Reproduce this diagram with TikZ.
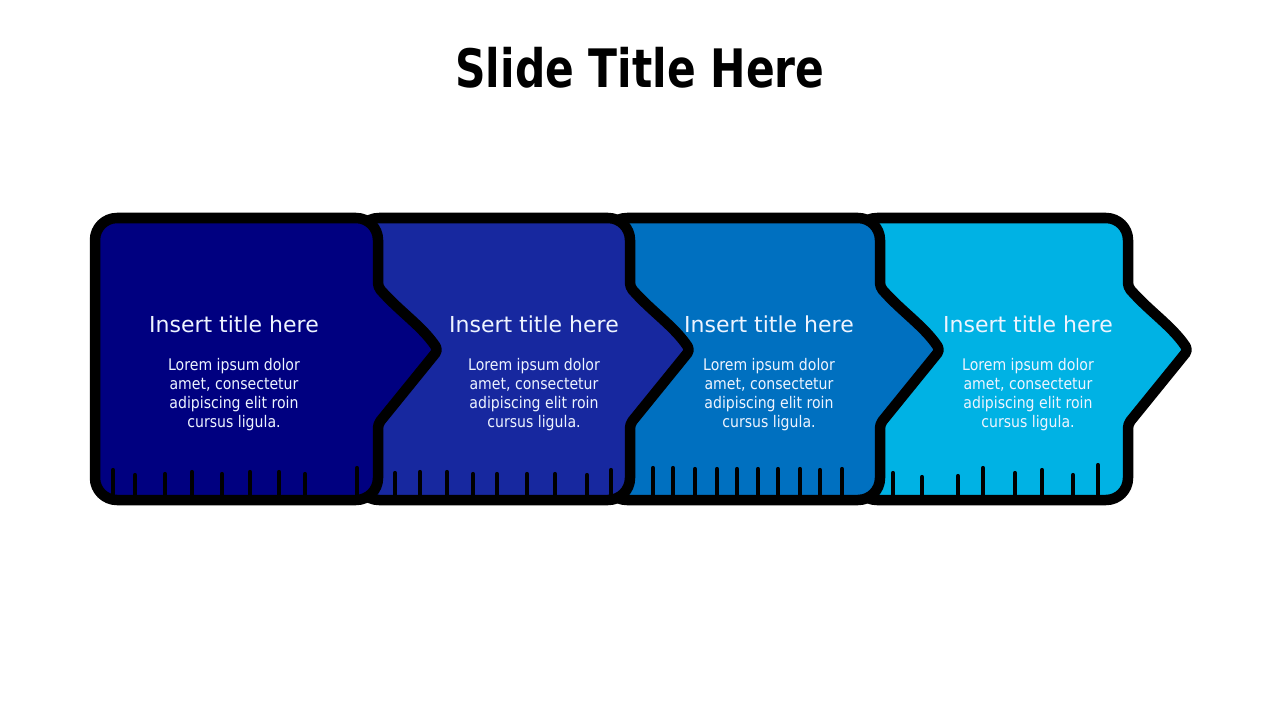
\documentclass[tikz,border=0pt]{standalone}
\usepackage{fontspec}
\setmainfont{DejaVu Sans}
\newfontfamily\headfont[FakeStretch=0.8]{DejaVu Sans}
\newfontfamily\bodyfont[FakeStretch=0.88]{DejaVu Sans}

\definecolor{stepA}{HTML}{000080}
\definecolor{stepB}{HTML}{17289F}
\definecolor{stepC}{HTML}{0070C0}
\definecolor{stepD}{HTML}{00B2E4}
\definecolor{textlight}{HTML}{EEF4FF}

\begin{document}
\begin{tikzpicture}[x=1bp,y=-1bp]
  \tikzset{stepshape/.style = {draw=black,line width=10.5bp,line join=round}}
  \tikzset{tick/.style = {draw=black,line width=4.2bp,line cap=round}}
  \tikzset{steptitle/.style = {anchor=base,inner sep=0pt,text=textlight,font=\fontsize{22bp}{26bp}\selectfont}}
  \tikzset{steptext/.style = {anchor=base,inner sep=0pt,align=center,text=textlight,font=\bodyfont\fontsize{16bp}{19bp}\selectfont}}

  \useasboundingbox[fill=white] (0,0) rectangle (1280,720);

  \node[anchor=base,inner sep=0pt,font=\headfont\bfseries\fontsize{53bp}{60bp}\selectfont] (title) at (640,88) {Slide Title Here};

  % steps, drawn from right to left
  \foreach \L/\R/\col in {855/1128/stepD, 605/880/stepC, 357/630/stepB, 95/378/stepA}
    \path[stepshape,fill=\col] (\L,218) [rounded corners=22bp] -- (\R,218)
      [rounded corners=4bp] -- (\R,287) .. controls (\R+22,312) and (\R+44,326) .. (\R+60,350) -- (\R,424)
      [rounded corners=22bp] -- (\R,500) -- (\L,500) -- cycle;

  % fringe
  \foreach \x/\y in {113/470, 135/475, 165/474, 192/472, 222/474, 250/472, 279/472, 305/474, 357/468,
                     395/473, 420/472, 447/472, 473/474, 497/474, 527/474, 555/474, 587/475, 611/470,
                     653/468, 673/468, 695/469, 717/469, 737/469, 758/469, 778/469, 800/469, 820/470, 842/469,
                     893/473, 922/477, 958/476, 983/468, 1015/473, 1042/470, 1073/475, 1098/465}
    \draw[tick] (\x,496) -- (\x,\y);

  \node[steptitle] (t1) at (234,332) {Insert title here};
  \node[steptitle] (t2) at (534,332) {Insert title here};
  \node[steptitle] (t3) at (769,332) {Insert title here};
  \node[steptitle] (t4) at (1028,332) {Insert title here};

  \node[steptext] (b1) at (234,427) {Lorem ipsum dolor\\amet, consectetur\\adipiscing elit roin\\cursus ligula.};
  \node[steptext] (b2) at (534,427) {Lorem ipsum dolor\\amet, consectetur\\adipiscing elit roin\\cursus ligula.};
  \node[steptext] (b3) at (769,427) {Lorem ipsum dolor\\amet, consectetur\\adipiscing elit roin\\cursus ligula.};
  \node[steptext] (b4) at (1028,427) {Lorem ipsum dolor\\amet, consectetur\\adipiscing elit roin\\cursus ligula.};
\end{tikzpicture}
\end{document}
